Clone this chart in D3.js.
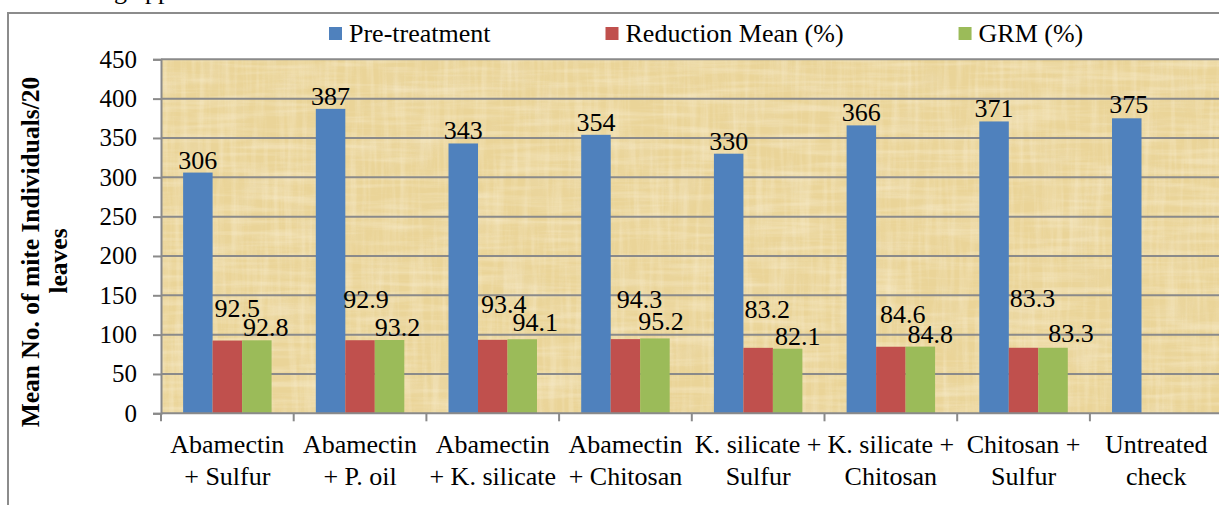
<!DOCTYPE html>
<html>
<head>
<meta charset="utf-8">
<script src="https://cdn.jsdelivr.net/npm/d3@7"></script>
<style>
  body { margin: 0; background: #fff; }
  svg { display: block; }
  svg text { font-family: "Liberation Serif", "Times New Roman", serif; }
</style>
</head>
<body>
<svg id="chart"></svg>
<script>
// data
const categories = [
  ["Abamectin", "+ Sulfur"],
  ["Abamectin", "+ P. oil"],
  ["Abamectin", "+ K. silicate"],
  ["Abamectin", "+ Chitosan"],
  ["K. silicate +", "Sulfur"],
  ["K. silicate +", "Chitosan"],
  ["Chitosan +", "Sulfur"],
  ["Untreated", "check"]
];
const seriesNames = ["Pre-treatment", "Reduction Mean (%)", "GRM (%)"];
const preTreatment = [306, 387, 343, 354, 330, 366, 371, 375];
const reductionMean = [92.5, 92.9, 93.4, 94.3, 83.2, 84.6, 83.3, null];
const grm = [92.8, 93.2, 94.1, 95.2, 82.1, 84.8, 83.3, null];
const yTicks = [0, 50, 100, 150, 200, 250, 300, 350, 400, 450];

const w = 1219;
const h = 505;
const colors = ["#4f81bd", "#c0504d", "#9bbb59"];
const fontSize = 26;
const tickSize = 25;
const serif = '"Liberation Serif", "Times New Roman", serif';

// label nudges (the labels in the source were moved by hand)
const labelLift = [
  [4, 4, 4, 4, 4, 4, 4, 5],
  [24, 32, 27, 31, 30, 24, 41, 0],
  [4, 4, 8, 8, 4, 4, 6, 0]
];
const labelShift = [
  [0, 0, 0, 0, 0, 0, 0, 2],
  [10, 6, 11, 14, 9, 12, 9, 0],
  [9, 8, 13, 6, 10, 10, 18, 0]
];

const svg = d3.select("#chart").attr("width", w).attr("height", h);

const keys = categories.map((c) => c.join(" "));
const values = [preTreatment, reductionMean, grm];

const x0 = d3.scaleBand().domain(keys).range([161, 161 + 8 * 132.7]);
const bw = x0.bandwidth();
const groupW = bw * (3 / 4.5);
const x1 = d3
  .scaleBand()
  .domain(seriesNames)
  .range([(bw - groupW) / 2, (bw + groupW) / 2]);
const y = d3.scaleLinear().domain([0, 450]).range([413.3, 59.3]);

// cut-off caption line from the page above
svg
  .append("text")
  .attr("x", 59)
  .attr("y", -1)
  .attr("font-family", serif)
  .style("font-size", fontSize + "px")
  .text("during application");

// outer frame
svg
  .append("rect")
  .attr("x", 8)
  .attr("y", 13)
  .attr("width", w + 20)
  .attr("height", h + 20)
  .attr("fill", "#fff")
  .attr("stroke", "#8c8c8c")
  .attr("stroke-width", 2);

// papyrus-like plot background
const defs = svg.append("defs");
const addFibre = (id, freq, seed, rgb, a, b) => {
  const f = defs
    .append("filter")
    .attr("id", id)
    .attr("x", 0)
    .attr("y", 0)
    .attr("width", 1)
    .attr("height", 1);
  f.append("feTurbulence")
    .attr("type", "fractalNoise")
    .attr("baseFrequency", freq)
    .attr("numOctaves", 3)
    .attr("seed", seed);
  f.append("feColorMatrix")
    .attr("type", "matrix")
    .attr(
      "values",
      `0 0 0 0 ${rgb[0]}  0 0 0 0 ${rgb[1]}  0 0 0 0 ${rgb[2]}  0 0 0 ${a} ${b}`
    );
};
addFibre("fibreA", "0.012 0.16", 7, [0.97, 0.9, 0.72], 2.4, -1.0);
addFibre("fibreB", "0.16 0.012", 3, [0.97, 0.9, 0.72], 2.4, -1.0);
addFibre("fibreC", "0.03 0.03", 11, [0.85, 0.74, 0.5], 2.0, -0.95);

const plotX = x0.range()[0];
const plotW = x0.range()[1] - plotX;
const plotY = y(450);
const plotH = y(0) - y(450);

const bg = svg.append("g");
bg.append("rect")
  .attr("x", plotX)
  .attr("y", plotY)
  .attr("width", plotW)
  .attr("height", plotH)
  .attr("fill", "#ead498");
[["fibreC", 0.4], ["fibreA", 0.35], ["fibreB", 0.3]].forEach(([id, op]) => {
  bg.append("rect")
    .attr("x", plotX)
    .attr("y", plotY)
    .attr("width", plotW)
    .attr("height", plotH)
    .attr("filter", `url(#${id})`)
    .attr("opacity", op);
});

// gridlines
svg
  .append("g")
  .selectAll("line")
  .data(yTicks.filter((t) => t > 0))
  .enter()
  .append("line")
  .attr("x1", plotX)
  .attr("x2", plotX + plotW)
  .attr("y1", (d) => y(d))
  .attr("y2", (d) => y(d))
  .attr("stroke", "#8a8a8a")
  .attr("stroke-width", 2);

// bars
const groups = svg
  .append("g")
  .selectAll("g")
  .data(keys)
  .enter()
  .append("g")
  .attr("transform", (d) => "translate(" + x0(d) + ",0)");

groups
  .selectAll("rect")
  .data((d, i) =>
    seriesNames
      .map((s, j) => ({ s, j, v: values[j][i] }))
      .filter((e) => e.v != null)
  )
  .enter()
  .append("rect")
  .attr("x", (d) => x1(d.s))
  .attr("width", x1.bandwidth())
  .attr("y", (d) => y(d.v))
  .attr("height", (d) => y(0) - y(d.v))
  .attr("fill", (d) => colors[d.j]);

// value labels
groups
  .selectAll("text")
  .data((d, i) =>
    seriesNames
      .map((s, j) => ({ s, j, i, v: values[j][i] }))
      .filter((e) => e.v != null)
  )
  .enter()
  .append("text")
  .attr("text-anchor", "middle")
  .attr("font-family", serif)
  .attr("x", (d) => x1(d.s) + x1.bandwidth() / 2 + labelShift[d.j][d.i])
  .attr("y", (d) => y(d.v) - labelLift[d.j][d.i])
  .style("font-size", fontSize + "px")
  .text((d) => d.v);

// y axis
const yAxis = d3.axisLeft(y).tickValues(yTicks).tickSize(8).tickPadding(16);
const yG = svg
  .append("g")
  .attr("transform", "translate(" + plotX + ",0)")
  .call(yAxis)
  .attr("font-family", serif)
  .attr("font-size", tickSize);
yG.select(".domain").attr("stroke", "#8a8a8a").attr("stroke-width", 2);
yG.selectAll(".tick line").attr("stroke", "#8a8a8a").attr("stroke-width", 2);
yG.selectAll(".tick text").attr("fill", "#000");

// x axis line and boundary ticks
svg
  .append("line")
  .attr("x1", plotX)
  .attr("x2", plotX + plotW)
  .attr("y1", y(0))
  .attr("y2", y(0))
  .attr("stroke", "#8a8a8a")
  .attr("stroke-width", 2);
svg
  .append("g")
  .selectAll("line")
  .data(keys.map((k) => x0(k)).concat([plotX + plotW]))
  .enter()
  .append("line")
  .attr("x1", (d) => d)
  .attr("x2", (d) => d)
  .attr("y1", y(0))
  .attr("y2", y(0) + 8)
  .attr("stroke", "#8a8a8a")
  .attr("stroke-width", 2);

// category labels
const catText = svg
  .append("g")
  .selectAll("text")
  .data(categories)
  .enter()
  .append("text")
  .attr("text-anchor", "middle")
  .attr("font-family", serif)
  .style("font-size", fontSize + "px")
  .attr("x", (d, i) => x0(keys[i]) + bw / 2);
catText
  .selectAll("tspan")
  .data((d) => d)
  .enter()
  .append("tspan")
  .attr("x", function () {
    return this.parentNode.getAttribute("x");
  })
  .attr("y", (d, i) => y(0) + 40 + i * 32)
  .text((d) => d);

// y axis title
const yTitle = svg
  .append("g")
  .attr("font-family", serif)
  .style("font-size", "25.5px")
  .style("font-weight", "bold")
  .attr("text-anchor", "middle");
yTitle
  .append("text")
  .attr("transform", "translate(39,252) rotate(-90)")
  .text("Mean No. of mite Individuals/20");
yTitle
  .append("text")
  .attr("transform", "translate(67,261) rotate(-90)")
  .text("leaves");

// legend
const legend = svg.append("g").attr("id", "legend");
let lx = 329;
seriesNames.forEach((name, j) => {
  legend
    .append("rect")
    .attr("x", lx)
    .attr("y", 27)
    .attr("width", 13)
    .attr("height", 13)
    .attr("fill", colors[j]);
  const t = legend
    .append("text")
    .attr("x", lx + 20)
    .attr("y", 42)
    .attr("font-family", serif)
    .style("font-size", fontSize + "px")
    .text(name);
  lx += 20 + t.node().getComputedTextLength() + 115;
});
</script>
</body>
</html>
